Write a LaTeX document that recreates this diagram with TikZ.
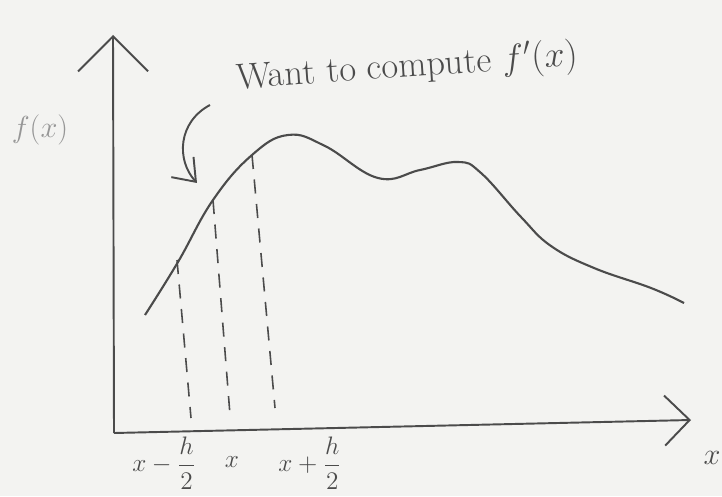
\documentclass[tikz,border=0pt]{standalone}
\usepackage{tikz}
\usepackage{xcolor}
\usetikzlibrary{arrows.meta, positioning}
\usepackage{amsmath}
\definecolor{pencil}{RGB}{75, 75, 75}
\definecolor{lightpencil}{RGB}{150, 150, 150}
\definecolor{paper}{RGB}{243, 243, 241}
\tikzset{
	axisline/.style={draw=pencil, line width=1.1pt},
	yarrow/.style={axisline, -{Straight Barb[length=0.7cm, width=1.4cm, line width=1.1pt]}},
	xarrow/.style={axisline, -{Straight Barb[length=0.5cm, width=1.0cm, line width=1.1pt]}},
	fcurve/.style={draw=pencil, line width=1.2pt},
	probe/.style={draw=pencil, line width=0.9pt, dash pattern=on 8pt off 6pt},
	hook/.style={draw=pencil, line width=1.1pt, -{Straight Barb[length=0.4cm, width=0.6cm, line width=1.1pt]}},
	ticklabel/.style={text=pencil, font=\Large, inner sep=1pt},
	annotation/.style={text=pencil, font=\huge}
}
\begin{document}
\begin{tikzpicture}[x=0.02cm, y=-0.02cm]
		
		% Paper
		\fill[paper] (0,0) rectangle (722,496);
		\useasboundingbox (0,0) rectangle (722,496);
		
		% Axes
		\coordinate (O) at (114,433);
		\coordinate (ytop) at (113,35);
		\coordinate (xend) at (691,420);
		\draw[yarrow] (O) -- (ytop);
		\draw[xarrow] (O) -- (xend);
		
		% Function
		\draw[fcurve] plot[smooth, tension=0.7] coordinates {(145,315) (178,262) (213,200) (252,155) (288,135) (325,146) (378,178) (420,170) (458,162) (481,173) (521,217) (551,246) (594,268) (651,288) (684,303)};
		
		% Points on the curve
		\coordinate (Lt) at (177,260);
		\coordinate (Lb) at (191,418);
		\coordinate (Mt) at (213,200);
		\coordinate (Mb) at (230,415);
		\coordinate (Rt) at (252,155);
		\coordinate (Rb) at (275,408);
		\draw[probe] (Lt) -- (Lb);
		\draw[probe] (Mt) -- (Mb);
		\draw[probe] (Rt) -- (Rb);
		
		% Labels
		\node (xminus) [ticklabel] at (164,463) {$x-\dfrac{h}{2}$};
		\node (xmid) [ticklabel] at (232,462) {$x$};
		\node (xplus) [ticklabel] at (310,463) {$x+\dfrac{h}{2}$};
		\node (xlabel) [ticklabel, font=\LARGE] at (712,458) {$x$};
		\node (ylabel) [text=lightpencil, font=\LARGE] at (40,130) {$f(x)$};
		\node (want) [annotation, rotate=4] at (407,68) {Want to compute $f'(x)$};
		
		% Arrow to the slope
		\coordinate (hookstart) at (210,105);
		\coordinate (hookend) at (197,183);
		\draw[hook] (hookstart) .. controls (178,122) and (176,160) .. (hookend);

\end{tikzpicture}
\end{document}
